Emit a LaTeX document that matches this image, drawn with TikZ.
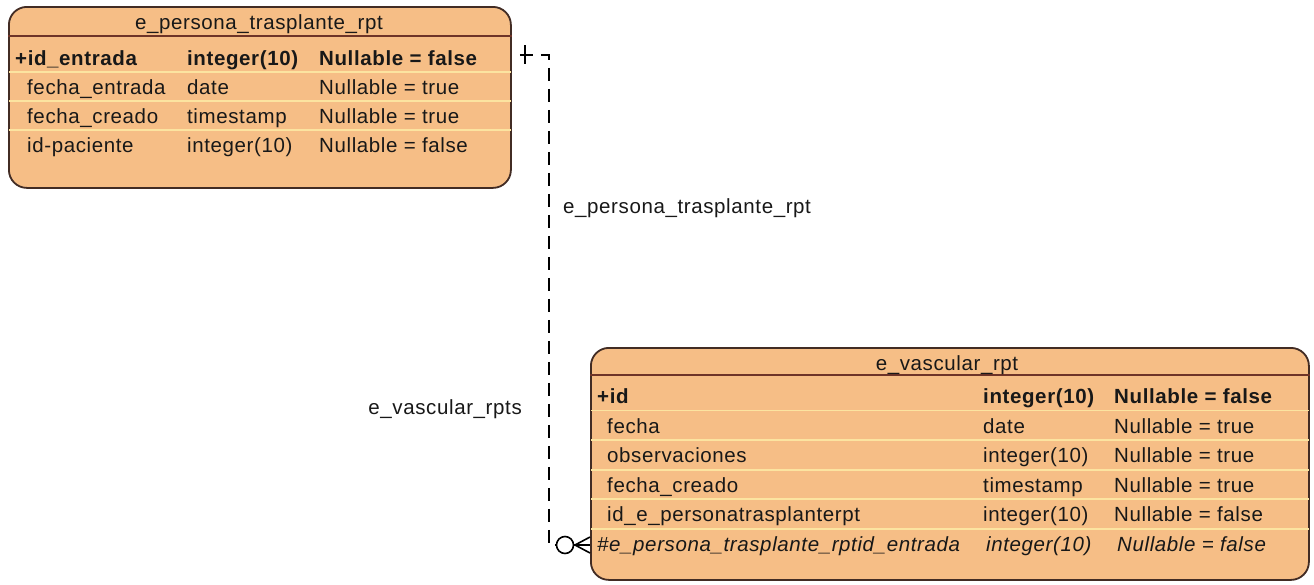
\documentclass[tikz,border=0pt]{standalone}
\usepackage{fontspec}
\setmainfont{Liberation Sans}[LetterSpace=3]
\definecolor{tblfill}{RGB}{246,190,134}
\definecolor{tblborder}{RGB}{66,44,36}
\definecolor{hdrline}{RGB}{110,52,40}
\definecolor{rowline}{RGB}{252,228,160}
\definecolor{txt}{RGB}{24,24,24}
\begin{document}
\begin{tikzpicture}[x=1pt,y=-1pt,
  tablebox/.style={draw=tblborder, line width=1.8pt, fill=tblfill, rounded corners=18pt,
    inner sep=0pt, anchor=north west},
  hdr/.style={draw=hdrline, line width=1.6pt},
  rowsep/.style={draw=rowline, line width=1.8pt},
  cell/.style={inner sep=0pt, anchor=base west, text=txt, font=\fontsize{20.5}{24}\selectfont},
  ttl/.style={inner sep=0pt, anchor=base, text=txt, font=\fontsize{20.5}{24}\selectfont},
  lbl/.style={inner sep=0pt, text=txt, font=\fontsize{20.5}{24}\selectfont},
  rel/.style={draw=black, line width=1.5pt, dash pattern=on 13pt off 8pt, dash phase=13pt},
  solidrel/.style={draw=black, line width=1.6pt},
  ringmark/.style={circle, draw=black, line width=1.6pt, minimum size=17pt, inner sep=0pt, fill=white}
]
\useasboundingbox (0,0) rectangle (1314,584);
\fill[white] (0,0) rectangle (1314,584);

% ---------- table 1 ----------
\node[tablebox, minimum width=502pt, minimum height=181pt] (t1) at (8,6) {};
\draw[hdr] (t1.west |- 0,36) -- (t1.east |- 0,36);
\foreach \yy in {72,101,130} \draw[rowsep] ([xshift=1pt]t1.west |- 0,\yy) -- ([xshift=-1pt]t1.east |- 0,\yy);
\node[ttl] (t1title) at (259,29) {e\_persona\_trasplante\_rpt};
\node[cell] (t1n1) at (15,65) {\bfseries +id\_entrada};
\node[cell] (t1t1) at (187,65) {\bfseries integer(10)};
\node[cell] (t1u1) at (319,65) {\bfseries Nullable = false};
\node[cell] (t1n2) at (27,94) {fecha\_entrada};
\node[cell] (t1t2) at (187,94) {date};
\node[cell] (t1u2) at (319,94) {Nullable = true};
\node[cell] (t1n3) at (27,123) {fecha\_creado};
\node[cell] (t1t3) at (187,123) {timestamp};
\node[cell] (t1u3) at (319,123) {Nullable = true};
\node[cell] (t1n4) at (27,152) {id-paciente};
\node[cell] (t1t4) at (187,152) {integer(10)};
\node[cell] (t1u4) at (319,152) {Nullable = false};

% ---------- table 2 ----------
\node[tablebox, minimum width=718pt, minimum height=232pt] (t2) at (590,347) {};
\draw[hdr] (t2.west |- 0,375) -- (t2.east |- 0,375);
\foreach \yy in {410.5,440,469.7,499.3,528.9} \draw[rowsep] ([xshift=1pt]t2.west |- 0,\yy) -- ([xshift=-1pt]t2.east |- 0,\yy);
\node[ttl] (t2title) at (947,370) {e\_vascular\_rpt};
\node[cell] (t2n1) at (597,403.5) {\bfseries +id};
\node[cell] (t2t1) at (983,403.5) {\bfseries integer(10)};
\node[cell] (t2u1) at (1114,403.5) {\bfseries Nullable = false};
\node[cell] (t2n2) at (607,433) {fecha};
\node[cell] (t2t2) at (983,433) {date};
\node[cell] (t2u2) at (1114,433) {Nullable = true};
\node[cell] (t2n3) at (607,462.7) {observaciones};
\node[cell] (t2t3) at (983,462.7) {integer(10)};
\node[cell] (t2u3) at (1114,462.7) {Nullable = true};
\node[cell] (t2n4) at (607,492.3) {fecha\_creado};
\node[cell] (t2t4) at (983,492.3) {timestamp};
\node[cell] (t2u4) at (1114,492.3) {Nullable = true};
\node[cell] (t2n5) at (607,521.9) {id\_e\_personatrasplanterpt};
\node[cell] (t2t5) at (983,521.9) {integer(10)};
\node[cell] (t2u5) at (1114,521.9) {Nullable = false};
\node[cell] (t2n6) at (597,551.5) {\itshape \#e\_persona\_trasplante\_rptid\_entrada};
\node[cell] (t2t6) at (986,551.5) {\itshape integer(10)};
\node[cell] (t2u6) at (1117,551.5) {\itshape Nullable = false};

% ---------- relationship ----------
\coordinate (start) at (t1.east |- 0,55);
\coordinate (bendA) at (549,55);
\coordinate (bendB) at (549,545);
\coordinate (finish) at (t2.west |- 0,545);
\node[ringmark] (ring) at (565,545) {};
\coordinate (footA) at (575,545);
\draw[rel] (start) -- (bendA) -- (bendB) -- (ring.west);
\draw[solidrel] (525,45) -- (525,64);
\draw[solidrel] (ring.east) -- (finish);
\draw[solidrel] (footA) -- ([yshift=8pt]finish);
\draw[solidrel] (footA) -- ([yshift=-8pt]finish);

\node[lbl, anchor=base west] (lblone) at (563,213) {e\_persona\_trasplante\_rpt};
\node[lbl, anchor=base east] (lblmany) at (522,414) {e\_vascular\_rpts};
\end{tikzpicture}
\end{document}
